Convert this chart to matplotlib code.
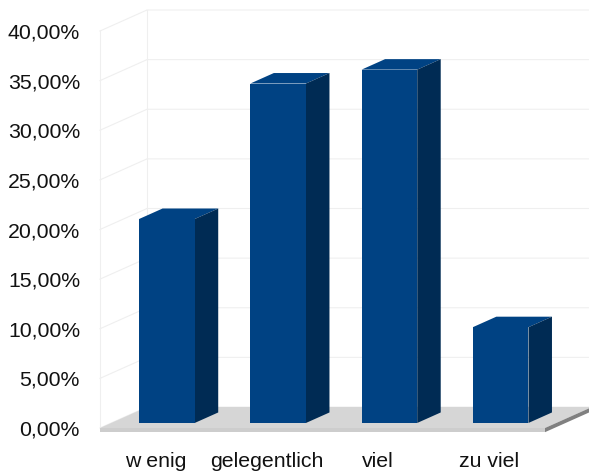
import matplotlib
matplotlib.use("Agg")
import matplotlib.pyplot as plt
from matplotlib.patches import Polygon

categories = ["w enig", "gelegentlich", "viel", "zu viel"]
values = [20.55, 34.2, 35.6, 9.65]
y_ticks = [0, 5, 10, 15, 20, 25, 30, 35, 40]
y_labels = ["0,00%", "5,00%", "10,00%", "15,00%", "20,00%", "25,00%", "30,00%", "35,00%", "40,00%"]

plt.rcParams["font.family"] = ["Liberation Sans", "DejaVu Sans"]

W, H = 589, 473
fig = plt.figure(figsize=(W / 100, H / 100), dpi=100)
ax = fig.add_axes([100 / W, (H - 428) / H, 445 / W, 397 / H])
ax.set_xlim(-0.5, 3.5)
ax.set_ylim(0, 40)

# depth of the fake 3d box, in data units
depth_x = 47 / 111.25
depth_y = 21 / 9.925
bar_width = 0.5


def proj(x, y, z):
    return (x + z * depth_x, y + z * depth_y)


def face(points, color, zorder, edge="none"):
    ax.add_patch(Polygon([proj(*p) for p in points], closed=True, facecolor=color,
                         edgecolor=edge, linewidth=0.6, zorder=zorder, clip_on=False))


# walls
for t in y_ticks:
    ax.plot(*zip(proj(-0.5, t, 0), proj(-0.5, t, 1), proj(3.5, t, 1)),
            color="#efefef", lw=0.8, zorder=1, clip_on=False)
for z in [0, 1]:
    ax.plot(*zip(proj(-0.5, 0, z), proj(-0.5, 40, z)), color="#efefef", lw=0.8, zorder=1, clip_on=False)

# floor
face([(-0.5, 0, 0), (3.5, 0, 0), (3.5, 0, 1), (-0.5, 0, 1)], "#d6d6d6", 2)
slab = 0.42
face([(-0.5, 0, 0), (3.5, 0, 0), (3.5, -slab, 0), (-0.5, -slab, 0)], "#cdcdcd", 2)
face([(3.5, 0, 0), (3.5, 0, 1), (3.5, -slab, 1), (3.5, -slab, 0)], "#808080", 2)

# bars
z0, z1 = 0.24, 0.74
for i, v in enumerate(values):
    x0, x1 = i - bar_width / 2, i + bar_width / 2
    face([(x0, v, z0), (x1, v, z0), (x1, v, z1), (x0, v, z1)], "#004283", 4)
    face([(x1, 0, z0), (x1, v, z0), (x1, v, z1), (x1, 0, z1)], "#002b54", 4)
    face([(x0, 0, z0), (x1, 0, z0), (x1, v, z0), (x0, v, z0)], "#004283", 5)

ax.set_xticks(range(len(categories)))
ax.set_xticklabels(categories, fontsize=15.3, color="#111111")
ax.set_yticks(y_ticks)
ax.set_yticklabels(y_labels, fontsize=15.3, color="#111111")
ax.tick_params(axis="x", length=0, pad=17)
ax.tick_params(axis="y", length=0, pad=14.4)
for s in ax.spines.values():
    s.set_visible(False)
ax.patch.set_alpha(0)

plt.savefig("out.png", dpi=100)
